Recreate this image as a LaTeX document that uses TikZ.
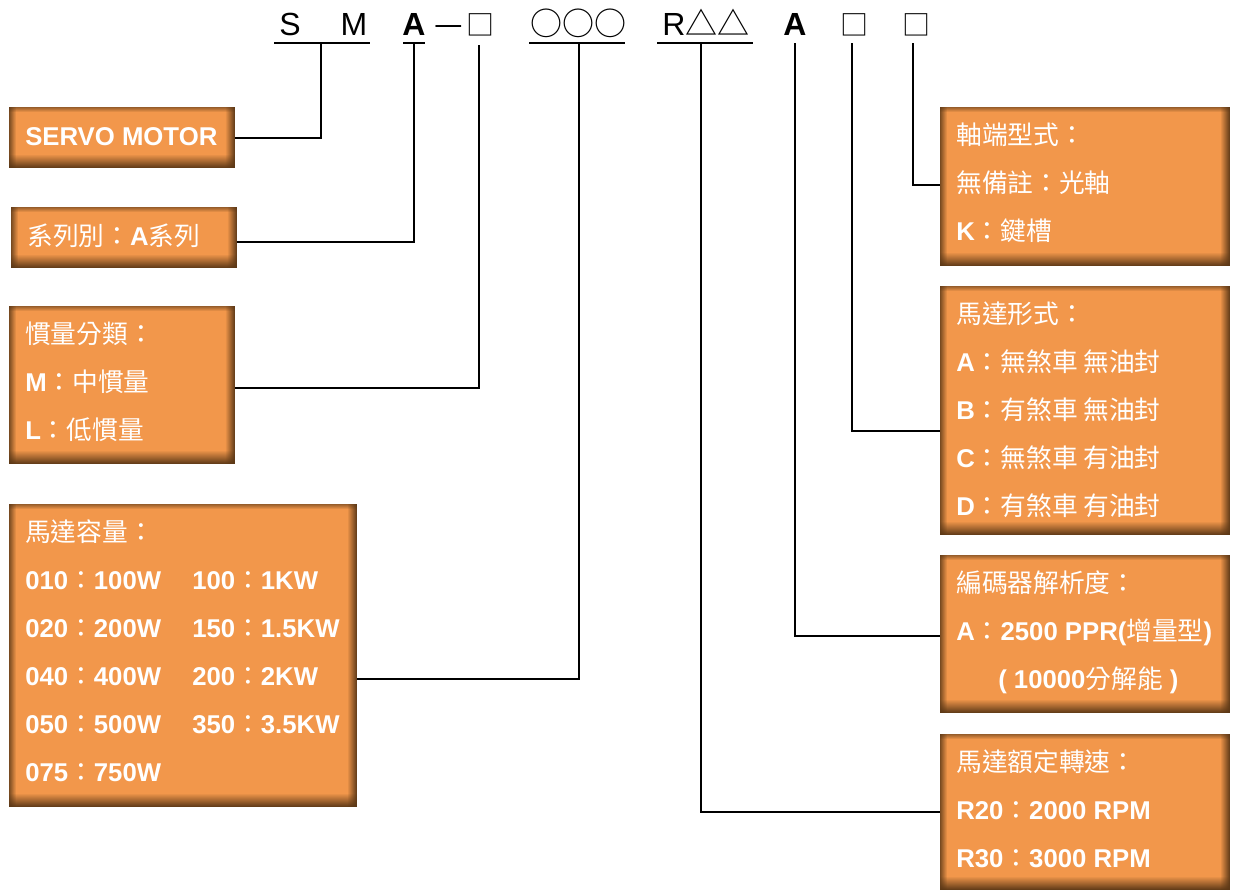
\documentclass[tikz,border=0pt]{standalone}
\usepackage{fontspec}
\setmainfont{Liberation Sans}
\newfontfamily\cjk{Noto Sans CJK TC}
\usetikzlibrary{calc,fit,fadings}
\definecolor{amber}{HTML}{F2974B}
\definecolor{umber}{HTML}{5A3716}
\tikzfading[name=fadebottom, top color=transparent!100, bottom color=transparent!0]
\tikzfading[name=fadetop, top color=transparent!0, bottom color=transparent!100]
\tikzfading[name=faderight, left color=transparent!100, right color=transparent!0]
\tikzfading[name=fadeleft, left color=transparent!0, right color=transparent!100]
\tikzset{
  codebox/.style={
    fill=amber,
    inner sep=0pt,
    outer sep=0pt
  },
  codetext/.style={
    text=white,
    anchor=base west,
    inner sep=0pt,
    font=\fontsize{19.3}{36}\selectfont
  },
  codehead/.style={
    text=black,
    anchor=base,
    inner sep=0pt,
    font=\fontsize{24}{28}\selectfont
  },
  blank/.style={
    codehead,
    font=\fontsize{21}{24}\selectfont
  },
  leader/.style={
    draw=black,
    line width=1.5pt
  },
  underbar/.style={
    draw=black,
    line width=2pt
  }
}
\newcommand{\zh}[1]{{\cjk #1}}
\newcommand{\en}[1]{{\bfseries #1}}
\newcommand{\specbox}[5]{%
  \node[codebox, fit={(#2,#3) (#4,#5)}] (#1) {};
  \fill[umber, path fading=fadebottom]
    ($(#1.south west)+(0,-14)$) rectangle (#1.south east);
  \fill[umber, path fading=faderight]
    ($(#1.north east)+(-10,0)$) rectangle (#1.south east);
  \fill[umber, path fading=fadeleft, opacity=0.8]
    (#1.north west) rectangle ($(#1.south west)+(7,0)$);
  \fill[umber, path fading=fadetop, opacity=0.6]
    (#1.north west) rectangle ($(#1.north east)+(0,5)$);
}

\begin{document}
\begin{tikzpicture}[x=0.75pt,y=-0.75pt]
  \useasboundingbox (0,0) rectangle (1233,890);

  % --- model code header ---
  \node[codehead] (hS) at (290,35) {S};
  \node[codehead] (hM) at (354,35) {M};
  \node[codehead, font=\fontsize{24}{28}\selectfont\bfseries] (hA) at (414,35) {A};
  \node[codehead] (hDash) at (449,35) {\zh{—}};
  \node[blank] (hSq) at (480,35) {\zh{□}};
  \node[codehead] (hCirc) at (578,35) {\zh{○○○}};
  \node[codehead] (hR) at (706,35) {R\zh{△△}};
  \node[codehead, font=\fontsize{24}{28}\selectfont\bfseries] (hA2) at (795,35) {A};
  \node[blank] (hSq2) at (854,35) {\zh{□}};
  \node[blank] (hSq3) at (916,35) {\zh{□}};

  \draw[underbar] (274,43) -- (370,43);
  \draw[underbar] (403,43) -- (425,43);
  \draw[underbar] (529,43) -- (625,43);
  \draw[underbar] (657,43) -- (753,43);
  \coordinate (uSM) at (321,43);
  \coordinate (uA) at (414,43);
  \coordinate (uSq) at (479,45);
  \coordinate (uCirc) at (579,43);
  \coordinate (uR) at (701,43);
  \coordinate (uA2) at (795,43);
  \coordinate (uSq2) at (852,43);
  \coordinate (uSq3) at (913,43);

  % --- left column ---
  \specbox{servo}{9}{107}{235}{168}
  \node[codetext] (servo-0) at (25,145) {\en{SERVO MOTOR}};

  \specbox{series}{11}{207}{237}{268}
  \node[codetext] (series-0) at (27,245) {\zh{系列別：}\en{A}\zh{系列}};

  \specbox{inertia}{9}{306}{235}{464}
  \foreach \row [count=\i from 0] in {\zh{慣量分類：}, {\en{M}\zh{：中慣量}}, {\en{L}\zh{：低慣量}}}
    \node[codetext] (inertia-\i) at (25,343+48*\i) {\row};

  \specbox{capacity}{9}{504}{357}{807}
  \foreach \row [count=\i from 0] in {\zh{馬達容量：}, {\en{010}\zh{：}\en{100W}}, {\en{020}\zh{：}\en{200W}},
      {\en{040}\zh{：}\en{400W}}, {\en{050}\zh{：}\en{500W}}, {\en{075}\zh{：}\en{750W}}}
    \node[codetext] (capacity-\i) at (25,541+48*\i) {\row};
  \foreach \row [count=\i from 1] in {{\en{100}\zh{：}\en{1KW}}, {\en{150}\zh{：}\en{1.5KW}},
      {\en{200}\zh{：}\en{2KW}}, {\en{350}\zh{：}\en{3.5KW}}}
    \node[codetext] (capacity-r\i) at (192,541+48*\i) {\row};

  % --- right column ---
  \specbox{shaft}{940}{107}{1230}{266}
  \foreach \row [count=\i from 0] in {\zh{軸端型式：}, \zh{無備註：光軸}, {\en{K}\zh{：鍵槽}}}
    \node[codetext] (shaft-\i) at (956,144+48*\i) {\row};

  \specbox{mtype}{940}{286}{1230}{535}
  \foreach \row [count=\i from 0] in {\zh{馬達形式：}, {\en{A}\zh{：無煞車 無油封}}, {\en{B}\zh{：有煞車 無油封}},
      {\en{C}\zh{：無煞車 有油封}}, {\en{D}\zh{：有煞車 有油封}}}
    \node[codetext] (mtype-\i) at (956,323+48*\i) {\row};

  \specbox{encoder}{940}{555}{1230}{713}
  \foreach \row [count=\i from 0] in {\zh{編碼器解析度：}, {\en{A}\zh{：}\en{2500 PPR(}\zh{增量型}\en{)}},
      {\hspace*{31.5pt}\en{( 10000}\zh{分解能}\en{ )}}}
    \node[codetext] (encoder-\i) at (956,592+48*\i) {\row};

  \specbox{speed}{940}{734}{1230}{890}
  \foreach \row [count=\i from 0] in {\zh{馬達額定轉速：}, {\en{R20}\zh{：}\en{2000 RPM}}, {\en{R30}\zh{：}\en{3000 RPM}}}
    \node[codetext] (speed-\i) at (956,771+48*\i) {\row};

  % --- leaders ---
  \draw[leader] (uSM) |- (servo.east);
  \draw[leader] (uA) |- ($(series.east)+(0,4)$);
  \draw[leader] (uSq) |- ($(inertia.east)+(0,3)$);
  \draw[leader] (uCirc) |- ($(capacity.east)+(0,23)$);
  \draw[leader] (uR) |- (speed.west);
  \draw[leader] (uA2) |- ($(encoder.west)+(0,2)$);
  \draw[leader] (uSq2) |- ($(mtype.west)+(0,20)$);
  \draw[leader] (uSq3) |- ($(shaft.west)+(0,-2)$);
\end{tikzpicture}
\end{document}
